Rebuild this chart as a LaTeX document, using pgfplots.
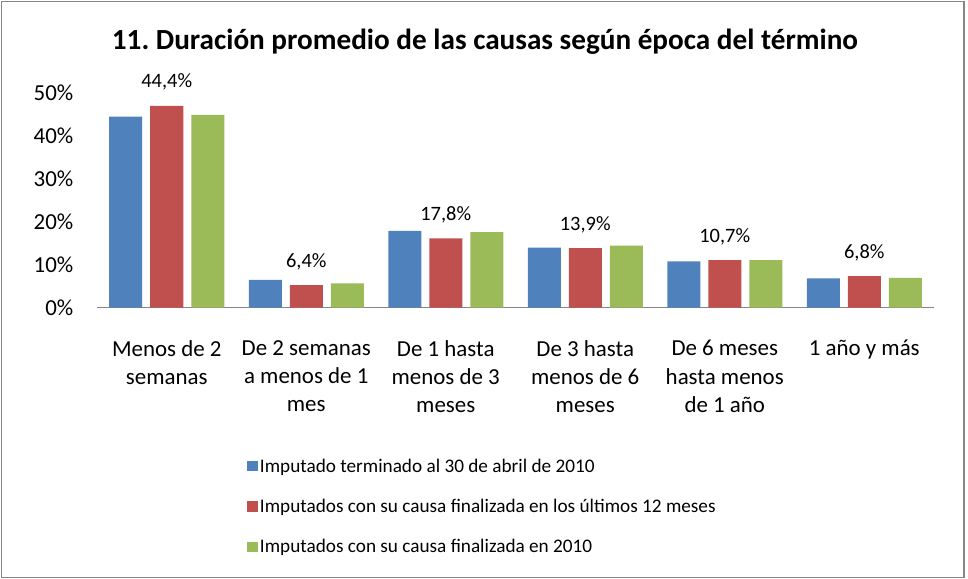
\documentclass[border=0pt]{standalone}
\usepackage{pgfplots}
\pgfplotsset{compat=1.18}
\usepackage{fontspec}
\setmainfont{Carlito}
\frenchspacing
\definecolor{cblue}{RGB}{79,129,189}
\definecolor{cred}{RGB}{192,80,77}
\definecolor{cgreen}{RGB}{155,187,89}
\definecolor{axgray}{RGB}{134,134,134}
\pgfplotsset{
  sqlegend/.style={legend image code/.code={\fill[##1] (0bp,-5bp) rectangle (10.5bp,5.5bp);}}
}
\begin{document}
\begin{tikzpicture}[x=1bp,y=1bp]
\path (-97,-271.5) rectangle (871,307.5);
\draw[axgray, line width=1.5bp] (-95.5,-270) rectangle (867,306);
\begin{axis}[
  at={(0,0)}, anchor=south west,
  scale only axis, width=837bp, height=215bp,
  xmin=-0.5, xmax=5.5, ymin=0, ymax=50,
  ybar=8bp, bar width=33bp,
  axis x line=bottom, axis y line=left,
  y axis line style={draw=none},
  x axis line style={axgray, line width=1.5bp, -},
  xtick style={draw=none}, ytick style={draw=none},
  ytick={0,10,20,30,40,50},
  yticklabel={\pgfmathprintnumber{\tick}\%},
  /pgf/number format/assume math mode=true,
  yticklabel style={font=\fontsize{23}{26}\selectfont, xshift=-18bp},
  xtick={0,1,2,3,4,5},
  xticklabels={{Menos de 2\\semanas},{De 2 semanas\\a menos de 1\\mes},{De 1 hasta\\menos de 3\\meses},{De 3 hasta\\menos de 6\\meses},{De 6 meses\\hasta menos\\de 1 año},{1 año y más}},
  xticklabel style={align=center, font=\fontsize{23}{28.5}\selectfont, anchor=north, yshift=-27bp},
  clip=false,
  legend style={at={(axis description cs:0.176,-0.685)}, anchor=north west, draw=none,
    font=\fontsize{19.3}{22}\selectfont, row sep=21.5bp, legend cell align=left,
    /tikz/every even column/.append style={column sep=2bp}},
  sqlegend,
]
\addplot[fill=cblue, draw=none] coordinates {(0,44.4) (1,6.4) (2,17.8) (3,13.9) (4,10.7) (5,6.8)};
\addplot[fill=cred, draw=none, nodes near coords={\pgfplotspointmeta\%}, point meta=explicit symbolic,
  nodes near coords style={anchor=center, yshift=23.5bp, font=\fontsize{20.5}{24}\selectfont, text=black}]
  table[meta=lab] {
x y lab
0 46.9 44,4
1 5.2 6,4
2 16.1 17,8
3 13.8 13,9
4 11.0 10,7
5 7.3 6,8
};
\addplot[fill=cgreen, draw=none] coordinates {(0,44.8) (1,5.6) (2,17.5) (3,14.4) (4,11.0) (5,6.9)};
\legend{Imputado terminado al 30 de abril de 2010,Imputados con su causa finalizada en los últimos 12 meses,Imputados con su causa finalizada en 2010}
\end{axis}
\node[font=\bfseries\fontsize{29.3}{34}\selectfont] at (388,265.5) {11. Duración promedio de las causas según época del término};
\end{tikzpicture}
\end{document}
